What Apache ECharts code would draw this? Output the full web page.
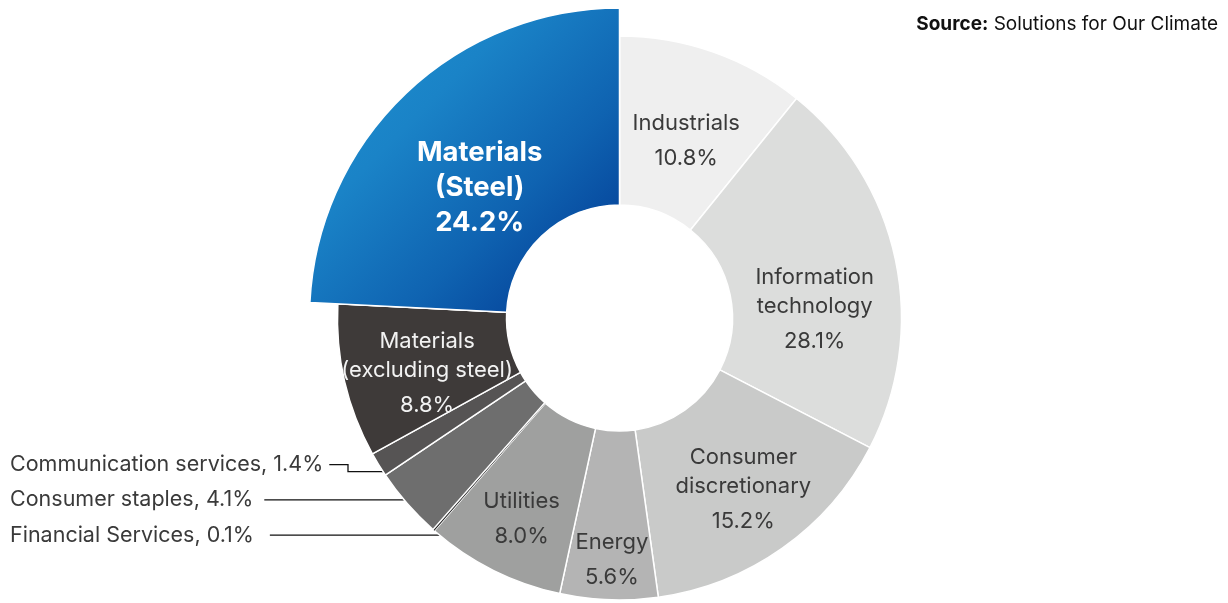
<!DOCTYPE html>
<html>
<head>
<meta charset="utf-8">
<script src="https://cdn.jsdelivr.net/npm/echarts/dist/echarts.min.js"></script>
<style>
html,body{margin:0;padding:0;background:#ffffff;}
#chart{width:1228px;height:603px;}
</style>
</head>
<body>
<div id="chart"></div>
<script>
// ---- data ----
// sector names (line breaks as printed)
const categories = [
  'Industrials',
  'Information\ntechnology',
  'Consumer\ndiscretionary',
  'Energy',
  'Utilities',
  'Financial Services',
  'Consumer staples',
  'Communication services',
  'Materials\n(excluding steel)',
  'Materials\n(Steel)'
];
// share of the ring each slice occupies in the picture (%)
const drawnShare = [10.8, 21.8, 15.2, 5.6, 8.0, 0.1, 4.1, 1.4, 8.8, 24.2];
// percentages printed in the labels
const printedPct = [10.8, 28.1, 15.2, 5.6, 8.0, 0.1, 4.1, 1.4, 8.8, 24.2];
const sourceLabel = 'Source:';
const sourceText = 'Solutions for Our Climate';

// ---- styling / layout ----
const FONT = 'Inter, "Noto Sans", sans-serif';
const CX = 619.5, CY = 318, R0 = 113, R = 282, RS = 310;
const HIGHLIGHT = 9;
const steelGradient = new echarts.graphic.LinearGradient(0, 0, 1, 1, [
  {offset: 0, color: '#1f93d2'},
  {offset: 0.35, color: '#1a83c7'},
  {offset: 0.65, color: '#0f63b1'},
  {offset: 1, color: '#00338e'}
]);
const sliceColors = ['#efefef', '#dcdddc', '#c9cac9', '#b4b4b4', '#9fa09f',
  '#1e1e1e', '#6e6e6e', '#565454', '#3e3a39', steelGradient];
const labelColors = {8: '#f2f2f2'};
const insideShift = {0: [0, 15], 1: [-1, 36], 2: [8, 11], 3: [0, 45], 4: [-8, 25], 8: [3, 13]};
const outsideCfg = {
  5: {dy: 5, drop: 0, gap: 16},
  6: {dy: -4, drop: 0, gap: 11},
  7: {dy: 0, drop: 7, gap: 6, step: 35}
};
const pctText = v => v.toFixed(1) + '%';

const ringData = categories.map((name, i) => {
  const outside = outsideCfg[i] !== undefined;
  const txtColor = labelColors[i] || '#3a3a3a';
  const item = {
    name: name,
    value: drawnShare[i],
    itemStyle: {
      color: i === HIGHLIGHT ? 'transparent' : sliceColors[i],
      borderColor: '#ffffff',
      borderWidth: i === 5 ? 0 : 1.5
    }
  };
  if (i === HIGHLIGHT) {
    item.label = {show: false};
    item.labelLine = {show: false};
  } else if (outside) {
    item.label = {
      show: true, position: 'outside', alignTo: 'edge', edgeDistance: 10,
      formatter: name + ', ' + pctText(printedPct[i]),
      fontFamily: FONT, fontSize: 21.5, color: txtColor, overflow: 'none'
    };
    item.labelLine = {show: true, length: 0, length2: 10,
      lineStyle: {color: '#111111', width: 1.3}};
  } else {
    item.label = {
      show: true, position: 'inside',
      formatter: name.split('\n').map(l => '{n|' + l + '}').join('\n') +
        '\n{p|' + pctText(printedPct[i]) + '}',
      rich: {
        n: {fontFamily: FONT, fontSize: 22, color: txtColor, lineHeight: 29, align: 'center'},
        p: {fontFamily: FONT, fontSize: 22, color: txtColor, lineHeight: 41, align: 'center'}
      }
    };
    item.labelLine = {show: false};
  }
  return item;
});

const overlayData = categories.map((name, i) => {
  if (i !== HIGHLIGHT) {
    return {name: name, value: drawnShare[i],
      itemStyle: {color: 'transparent', borderWidth: 0},
      label: {show: false}, labelLine: {show: false}};
  }
  return {
    name: name, value: drawnShare[i],
    itemStyle: {color: sliceColors[i], borderColor: '#ffffff', borderWidth: 1.5},
    label: {
      show: true, position: 'inside',
      formatter: name.split('\n').map(l => '{b|' + l + '}').join('\n') +
        '\n{b|' + pctText(printedPct[i]) + '}',
      rich: {
        b: {fontFamily: FONT, fontSize: 27.5, fontWeight: 'bold', color: '#ffffff', lineHeight: 35, align: 'center'}
      }
    },
    labelLine: {show: false}
  };
});

const chart = echarts.init(document.getElementById('chart'), null, {renderer: 'canvas'});
chart.setOption({
  backgroundColor: '#ffffff',
  animation: false,
  tooltip: {show: false},
  graphic: [{
    type: 'text', right: 10, top: 15,
    style: {
      text: '{b|' + sourceLabel + '}{r| ' + sourceText + '}',
      rich: {
        b: {fontFamily: FONT, fontSize: 19, fontWeight: 'bold', fill: '#111111'},
        r: {fontFamily: FONT, fontSize: 19, fill: '#111111'}
      }
    }
  }],
  series: [
    {
      type: 'pie',
      center: [CX, CY],
      radius: [R0, R],
      startAngle: 90,
      clockwise: true,
      avoidLabelOverlap: false,
      silent: true,
      emphasis: {disabled: true},
      data: ringData,
      labelLayout: function (p) {
        const i = p.dataIndex;
        if (insideShift[i]) return {dx: insideShift[i][0], dy: insideShift[i][1]};
        const o = outsideCfg[i];
        if (!o) return {};
        const r = p.labelRect;
        const yText = r.y + r.height / 2 + o.dy;
        const yLine = yText + o.drop;
        const xArc = CX - Math.sqrt(R * R - (yLine - CY) * (yLine - CY));
        const xEnd = r.x + r.width + o.gap;
        let pts;
        if (o.drop) {
          pts = [[xArc, yLine], [xArc - o.step, yLine], [xArc - o.step, yText], [xEnd, yText]];
        } else {
          pts = [[xArc, yLine], [(xArc + xEnd) / 2, yLine], [xEnd, yText]];
        }
        return {dy: o.dy, labelLinePoints: pts};
      }
    },
    {
      type: 'pie',
      center: [CX, CY],
      radius: [R0, RS],
      startAngle: 90,
      clockwise: true,
      avoidLabelOverlap: false,
      silent: true,
      emphasis: {disabled: true},
      data: overlayData,
      labelLayout: function (p) {
        if (p.dataIndex === HIGHLIGHT) return {dx: 8, dy: 25};
        return {};
      }
    }
  ]
});
</script>
</body>
</html>
